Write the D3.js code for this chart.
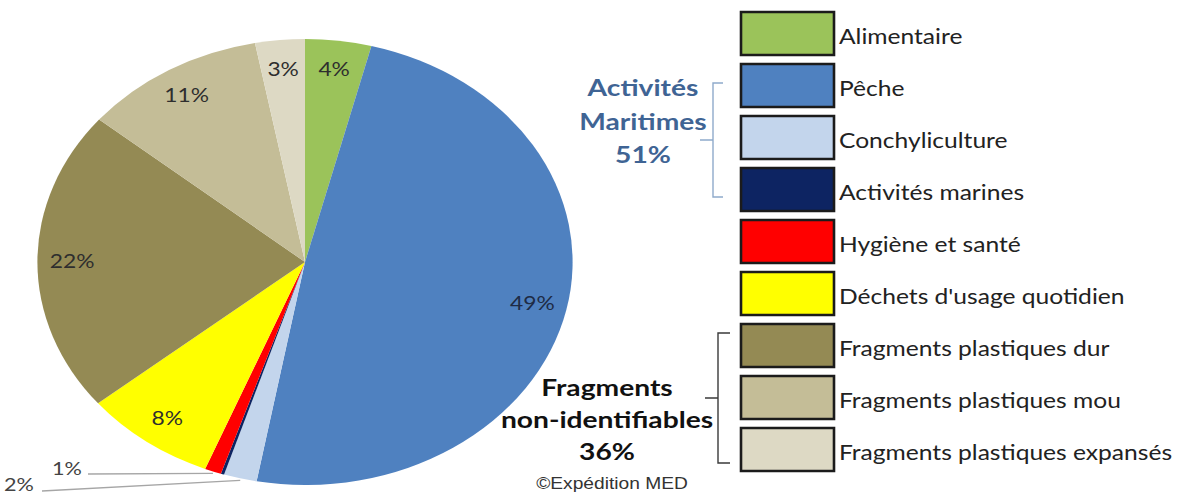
<!DOCTYPE html>
<html>
<head>
<meta charset="utf-8">
<script src="https://cdn.jsdelivr.net/npm/d3@7"></script>
<style>
  html, body { margin: 0; padding: 0; background: #fff; }
  svg { display: block; }
</style>
</head>
<body>
<svg id="chart" width="1178" height="495"></svg>
<script>
// Composition des déchets collectés (%)
const categories = [
  "Alimentaire", "Pêche", "Conchyliculture", "Activités marines",
  "Hygiène et santé", "Déchets d'usage quotidien",
  "Fragments plastiques dur", "Fragments plastiques mou", "Fragments plastiques expansés"
];
const values = [4, 49, 2, 0.2, 1, 8, 22, 11, 3];
const colors = [
  "#9bc35a", "#4f81c0", "#c3d5ec", "#0d2462",
  "#ff0000", "#ffff00", "#948a54", "#c4bd97", "#ddd9c4"
];
// slices labelled outside the pie with a leader line
const outsideLabels = ["Hygiène et santé", "Conchyliculture"];
// slices too thin to carry a label
const unlabelled = ["Activités marines"];
// grouped categories shown with braces next to the legend
const groups = [
  { title: ["Activités", "Maritimes"], members: ["Pêche", "Conchyliculture", "Activités marines"] },
  { title: ["Fragments", "non-identifiables"], members: ["Fragments plastiques dur", "Fragments plastiques mou", "Fragments plastiques expansés"] }
];
const credit = "©Expédition MED";

// Everything is laid out in page pixels, then squeezed into a
// horizontally stretched drawing (the chart is 1.2x wider than tall).
const SX = 1.2;
const X = px => px / SX;

const svg = d3.select("#chart");
const root = svg.append("g").attr("transform", `scale(${SX},1)`);

const FONT = "Lato, 'Open Sans', sans-serif";

// ---------- Pie ----------
const cx = X(305), cy = 262, R = 223;
const pie = d3.pie().sort(null).value(d => d.value);
const arcs = pie(categories.map((c, i) => ({ name: c, value: values[i], color: colors[i] })));
const arc = d3.arc().innerRadius(0).outerRadius(R);
const labelArc = d3.arc().innerRadius(R * 0.87).outerRadius(R * 0.87);

const gPie = root.append("g").attr("transform", `translate(${cx},${cy})`);
gPie.selectAll("path.slice")
  .data(arcs)
  .join("path")
  .attr("class", "slice")
  .attr("d", arc)
  .attr("fill", d => d.data.color);

const pct = v => Math.round(v) + "%";

gPie.selectAll("text.inside")
  .data(arcs.filter(d => !outsideLabels.includes(d.data.name) && !unlabelled.includes(d.data.name)))
  .join("text")
  .attr("class", "inside")
  .attr("transform", d => `translate(${labelArc.centroid(d)})`)
  .attr("text-anchor", "middle")
  .attr("dy", "0.36em")
  .attr("font-family", FONT)
  .attr("font-size", 19)
  .attr("fill", d => d.data.name === "Pêche" ? "#1e2b45" : "#2e2e2e")
  .text(d => pct(d.data.value));

// Leader-line labels for the small slices at the bottom
const leaderText = [
  { name: "Hygiène et santé", tx: 67, ty: 469, lx: 88, ly: 474 },
  { name: "Conchyliculture",  tx: 19, ty: 485, lx: 42, ly: 491 }
];
leaderText.forEach(o => {
  const d = arcs.find(a => a.data.name === o.name);
  const mid = (d.startAngle + d.endAngle) / 2;
  const ex = cx + R * Math.sin(mid), ey = cy - R * Math.cos(mid);
  root.append("line")
    .attr("x1", X(o.lx)).attr("y1", o.ly)
    .attr("x2", ex).attr("y2", ey + 2)
    .attr("stroke", "#a6a6a6").attr("stroke-width", 1.3)
    .attr("vector-effect", "non-scaling-stroke");
  root.append("text")
    .attr("x", X(o.tx)).attr("y", o.ty)
    .attr("text-anchor", "middle")
    .attr("dy", "0.36em")
    .attr("font-family", FONT)
    .attr("font-size", 18)
    .attr("fill", "#444")
    .text(pct(d.data.value));
});

// ---------- Legend ----------
const legX = X(741), boxW = X(93), boxH = 43, rowStep = 52, legY0 = 12;
const gLeg = root.append("g");
const rows = gLeg.selectAll("g.row")
  .data(categories)
  .join("g")
  .attr("class", "row")
  .attr("transform", (d, i) => `translate(0,${legY0 + i * rowStep})`);
rows.append("rect")
  .attr("x", legX).attr("y", 0)
  .attr("width", boxW).attr("height", boxH)
  .attr("fill", (d, i) => colors[i])
  .attr("stroke", "#1b1b1b").attr("stroke-width", 2.6)
  .attr("vector-effect", "non-scaling-stroke");
rows.append("text")
  .attr("x", X(839)).attr("y", boxH / 2 + 3)
  .attr("dy", "0.36em")
  .attr("font-family", FONT)
  .attr("font-size", 20.5)
  .attr("fill", "#222")
  .text(d => d);

// ---------- Group braces ----------
const braceSpecs = [
  { x: 713, top: 83, bot: 197, mid: 140, tipL: 700, tipR: 723, color: "#8faacb",
    textX: 643, lineY: [88, 122, 155], textColor: "#3f6494" },
  { x: 718, top: 333, bot: 463, mid: 398, tipL: 705, tipR: 730, color: "#3a3a3a",
    textX: 607, lineY: [388, 420, 452], textColor: "#111" }
];
groups.forEach((g, gi) => {
  const b = braceSpecs[gi];
  const total = d3.sum(g.members, m => values[categories.indexOf(m)]);
  const path = d3.path();
  path.moveTo(X(b.tipR), b.top);
  path.lineTo(X(b.x), b.top);
  path.lineTo(X(b.x), b.bot);
  path.lineTo(X(b.tipR), b.bot);
  path.moveTo(X(b.x), b.mid);
  path.lineTo(X(b.tipL), b.mid);
  root.append("path")
    .attr("d", path.toString())
    .attr("fill", "none")
    .attr("stroke", b.color).attr("stroke-width", 1.4)
    .attr("vector-effect", "non-scaling-stroke");
  const lines = g.title.concat([Math.round(total) + "%"]);
  root.selectAll(null)
    .data(lines)
    .join("text")
    .attr("x", X(b.textX))
    .attr("y", (d, i) => b.lineY[i])
    .attr("dy", "0.36em")
    .attr("text-anchor", "middle")
    .attr("font-family", FONT)
    .attr("font-weight", "bold")
    .attr("font-size", 23.5)
    .attr("fill", b.textColor)
    .text(d => d);
});

// ---------- Credit ----------
root.append("text")
  .attr("x", X(612)).attr("y", 483)
  .attr("dy", "0.36em")
  .attr("text-anchor", "middle")
  .attr("font-family", "'Liberation Sans', Arial, sans-serif")
  .attr("font-size", 16)
  .attr("fill", "#333")
  .text(credit);
</script>
</body>
</html>
